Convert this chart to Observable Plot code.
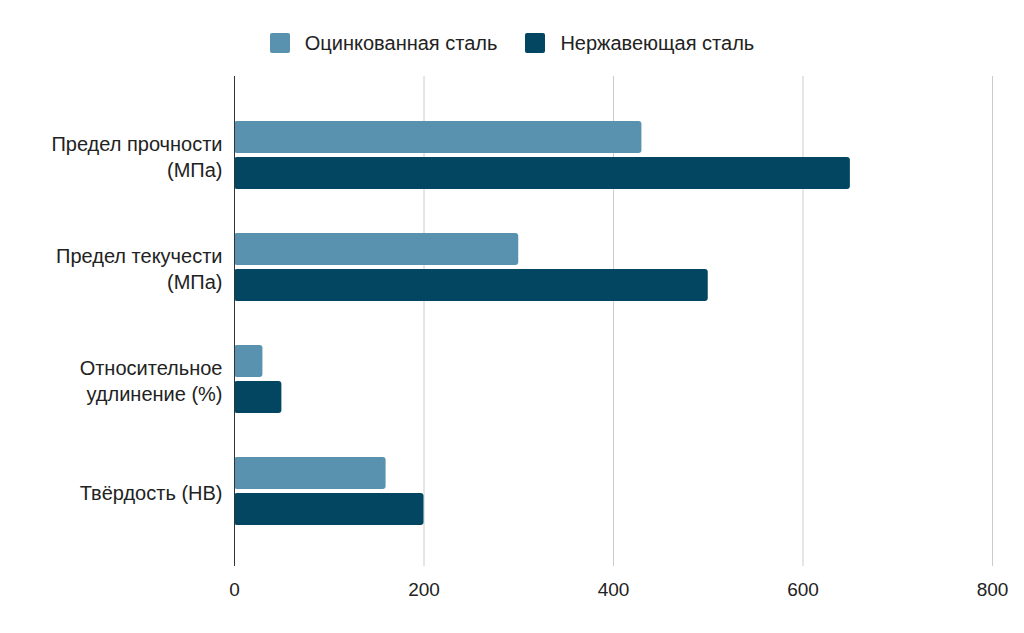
<!DOCTYPE html>
<html>
<head>
<meta charset="utf-8">
<script src="https://cdn.jsdelivr.net/npm/d3@7"></script>
<script src="https://cdn.jsdelivr.net/npm/@observablehq/plot@0.6"></script>
<style>
  html, body { margin: 0; padding: 0; background: #fff; }
  body { width: 1024px; height: 633px; overflow: hidden; font-family: "Liberation Sans", Arial, sans-serif; }
  #legend { height: 60px; display: flex; justify-content: center; align-items: flex-start; box-sizing: border-box; }
  .item { display: flex; align-items: center; margin: 0 14px; margin-top: 33px; height: 20px; font-size: 20px; color: #222; }
  .sw { width: 20px; height: 20px; border-radius: 2px; margin-right: 15px; }
</style>
</head>
<body>
<div id="legend"></div>
<div id="chart"></div>
<script>
const categories = ["Предел прочности\n(МПа)", "Предел текучести\n(МПа)", "Относительное\nудлинение (%)", "Твёрдость (НВ)"];
const series = ["Оцинкованная сталь", "Нержавеющая сталь"];
const galvanized = [430, 300, 30, 160];
const stainless = [650, 500, 50, 200];
const xTicks = [0, 200, 400, 600, 800];
const colors = ["#5992af", "#024661"];

const legend = document.getElementById("legend");
series.forEach((s, i) => {
  const it = document.createElement("div");
  it.className = "item";
  it.innerHTML = `<div class="sw" style="background:${colors[i]}"></div><span>${s}</span>`;
  legend.appendChild(it);
});

const dataG = categories.map((c, i) => ({category: c, value: galvanized[i]}));
const dataS = categories.map((c, i) => ({category: c, value: stainless[i]}));

const chart = Plot.plot({
  width: 1024,
  height: 573,
  marginTop: 16,
  marginBottom: 67,
  marginLeft: 234,
  marginRight: 32,
  style: {fontFamily: "'Liberation Sans', Arial, sans-serif", fontSize: "20px", color: "#222", background: "#fff"},
  x: {domain: [0, 800], ticks: xTicks},
  y: {domain: categories, paddingInner: 0.3966, paddingOuter: 0.3728, align: 0.515},
  marks: [
    Plot.ruleX(xTicks.filter(d => d !== 0), {stroke: "#cccccc", strokeWidth: 1}),
    Plot.barX(dataG, {y: "category", x: "value", fill: colors[0], insetBottom: 36, rx: 3}),
    Plot.barX(dataS, {y: "category", x: "value", fill: colors[1], insetTop: 36, rx: 3}),
    Plot.ruleX([0], {stroke: "#333", strokeWidth: 1}),
    Plot.axisX({ticks: xTicks, tickSize: 0, tickPadding: 16, fontSize: 19, label: null, tickFormat: d => String(d)}),
    Plot.axisY({tickSize: 0, tickPadding: 12, fontSize: 20, label: null, lineHeight: 1.3})
  ]
});
document.getElementById("chart").appendChild(chart);
</script>
</body>
</html>
